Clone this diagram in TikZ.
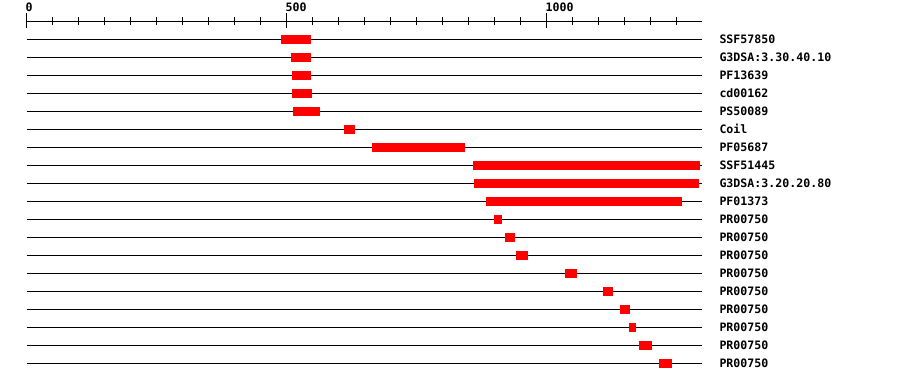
\documentclass[tikz,border=0pt]{standalone}
\usepackage{fontspec}
\setmonofont{DejaVu Sans Mono}
\usepackage{tikz}
\tikzset{lbl/.style={anchor=west, inner sep=0pt, font=\ttfamily\bfseries\fontsize{11.6}{12}\selectfont}}

\begin{document}
\begin{tikzpicture}[x=1pt,y=-1pt,line width=1pt]
\useasboundingbox (0,0) rectangle (900,382);
\begin{scope}[shift={(26.7,0)},xscale=0.52]
\draw (0,21.7) -- (1299,21.7);
\foreach \x in {0,50,...,1250}
\draw (\x,17.3) -- (\x,25);
\foreach \x in {0,500,1000}
\draw (\x,13.3) -- (\x,28.3);
\foreach \i in {0,...,18}
\draw (0,39.3+18*\i) -- (1299,39.3+18*\i);
\foreach \i/\a/\b in {0/489/547, 1/508/547, 2/510/547, 3/510/549, 4/512/564,
  5/610/631, 6/664/843, 7/858/1295, 8/860/1293, 9/883/1260,
  10/899/914, 11/920/939, 12/941/964, 13/1035/1058, 14/1108/1128,
  15/1141/1160, 16/1158/1172, 17/1178/1202, 18/1215/1240}
\fill[red] (\a,34.8+18*\i) rectangle (\b,43.8+18*\i);
\end{scope}
\foreach \x in {0,500,1000}
\node[lbl, anchor=base west] (t\x) at (25.2+0.52*\x,12) {\x};
\foreach \i/\t in {0/SSF57850, 1/G3DSA:3.30.40.10, 2/PF13639, 3/cd00162, 4/PS50089,
  5/Coil, 6/PF05687, 7/SSF51445, 8/G3DSA:3.20.20.80, 9/PF01373,
  10/PR00750, 11/PR00750, 12/PR00750, 13/PR00750, 14/PR00750,
  15/PR00750, 16/PR00750, 17/PR00750, 18/PR00750}
\node[lbl] (r\i) at (719,39.3+18*\i) {\t};
\end{tikzpicture}
\end{document}
